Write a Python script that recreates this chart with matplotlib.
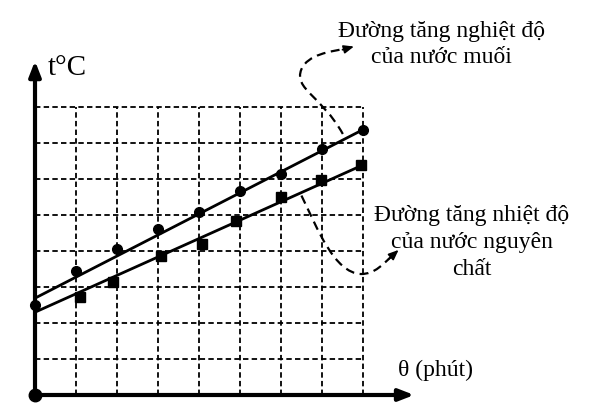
import matplotlib
matplotlib.use("Agg")
import matplotlib.pyplot as plt
from matplotlib.path import Path
from matplotlib.patches import PathPatch

plt.rcParams['font.family'] = ['Liberation Serif', 'DejaVu Serif']

# data (grid units)
salt_x = [0, 1, 2, 3, 4, 5, 6, 7, 8]
salt_t = [2.51, 3.44, 4.06, 4.61, 5.07, 5.68, 6.14, 6.83, 7.37]
pure_x = [1.1, 1.9, 3.08, 4.08, 4.9, 6.0, 6.98, 7.95]
pure_t = [2.71, 3.15, 3.85, 4.19, 4.84, 5.49, 5.98, 6.39]
salt_fit = [2.69, 7.37]
pure_fit = [2.30, 6.39]
fit_x = [0, 8]
grid_n = 8

fig = plt.figure(figsize=(6.06, 4.10), dpi=100)
ax = fig.add_axes([0, 0, 1, 1])
ax.set_xlim(-0.854, 13.93)
ax.set_ylim(-0.389, 11.0)
ax.axis('off')

# dashed grid
for i in range(1, grid_n + 1):
    ax.plot([i, i], [0, grid_n], color='black', lw=1.3, ls=(0, (3, 1.8)), zorder=1)
    ax.plot([0, grid_n], [i, i], color='black', lw=1.3, ls=(0, (3, 1.8)), zorder=1)

# axes with arrows
ax.annotate('', xy=(9.25, 0), xytext=(0, 0),
            arrowprops=dict(arrowstyle='-|>,head_length=0.9,head_width=0.35',
                            lw=3, color='black', shrinkA=0, shrinkB=0), zorder=3)
ax.annotate('', xy=(0, 9.28), xytext=(0, 0),
            arrowprops=dict(arrowstyle='-|>,head_length=0.9,head_width=0.35',
                            lw=3, color='black', shrinkA=0, shrinkB=0), zorder=3)
ax.plot([0], [0], 'o', color='black', ms=9, zorder=4)

# fitted lines and points
ax.plot(fit_x, salt_fit, color='black', lw=2, zorder=3)
ax.plot(fit_x, pure_fit, color='black', lw=2, zorder=3)
ax.plot(salt_x, salt_t, 'o', color='black', ms=7, zorder=4)
ax.plot(pure_x, pure_t, 's', color='black', ms=7.5, zorder=4)

# labels
ax.text(0.3, 8.92, 't°C', fontsize=21, ha='left', va='baseline')
ax.text(8.85, 0.56, 'θ (phút)', fontsize=17, ha='left', va='baseline')

ax.text(9.91, 9.25, 'Đường tăng nghiệt độ\ncủa nước muối', fontsize=17,
        ha='center', va='baseline', linespacing=1.32)
ax.text(10.65, 3.36, 'Đường tăng nhiệt độ\ncủa nước nguyên\nchất', fontsize=17,
        ha='center', va='baseline', linespacing=1.39)

# dashed curved pointers
up_path = Path([(7.51, 7.25), (7.0, 8.3), (6.3, 8.5), (6.5, 9.05),
                (6.65, 9.45), (7.2, 9.55), (7.6, 9.62)],
               [Path.MOVETO, Path.CURVE4, Path.CURVE4, Path.CURVE4,
                Path.CURVE4, Path.CURVE4, Path.CURVE4])
ax.add_patch(PathPatch(up_path, fill=False, lw=1.6, ls=(0, (4, 2.5)), color='black', zorder=2))
ax.annotate('', xy=(7.78, 9.68), xytext=(7.5, 9.59),
            arrowprops=dict(arrowstyle='-|>,head_length=0.6,head_width=0.25',
                            color='black', lw=1.2, shrinkA=0, shrinkB=0))

low_path = Path([(6.5, 5.54), (6.9, 4.6), (7.3, 3.4), (7.95, 3.36),
                 (8.3, 3.36), (8.5, 3.65), (8.7, 3.85)],
                [Path.MOVETO, Path.CURVE4, Path.CURVE4, Path.CURVE4,
                 Path.CURVE4, Path.CURVE4, Path.CURVE4])
ax.add_patch(PathPatch(low_path, fill=False, lw=1.6, ls=(0, (4, 2.5)), color='black', zorder=2))
ax.annotate('', xy=(8.87, 4.03), xytext=(8.62, 3.77),
            arrowprops=dict(arrowstyle='-|>,head_length=0.6,head_width=0.25',
                            color='black', lw=1.2, shrinkA=0, shrinkB=0))

fig.savefig('out.png', dpi=100)
